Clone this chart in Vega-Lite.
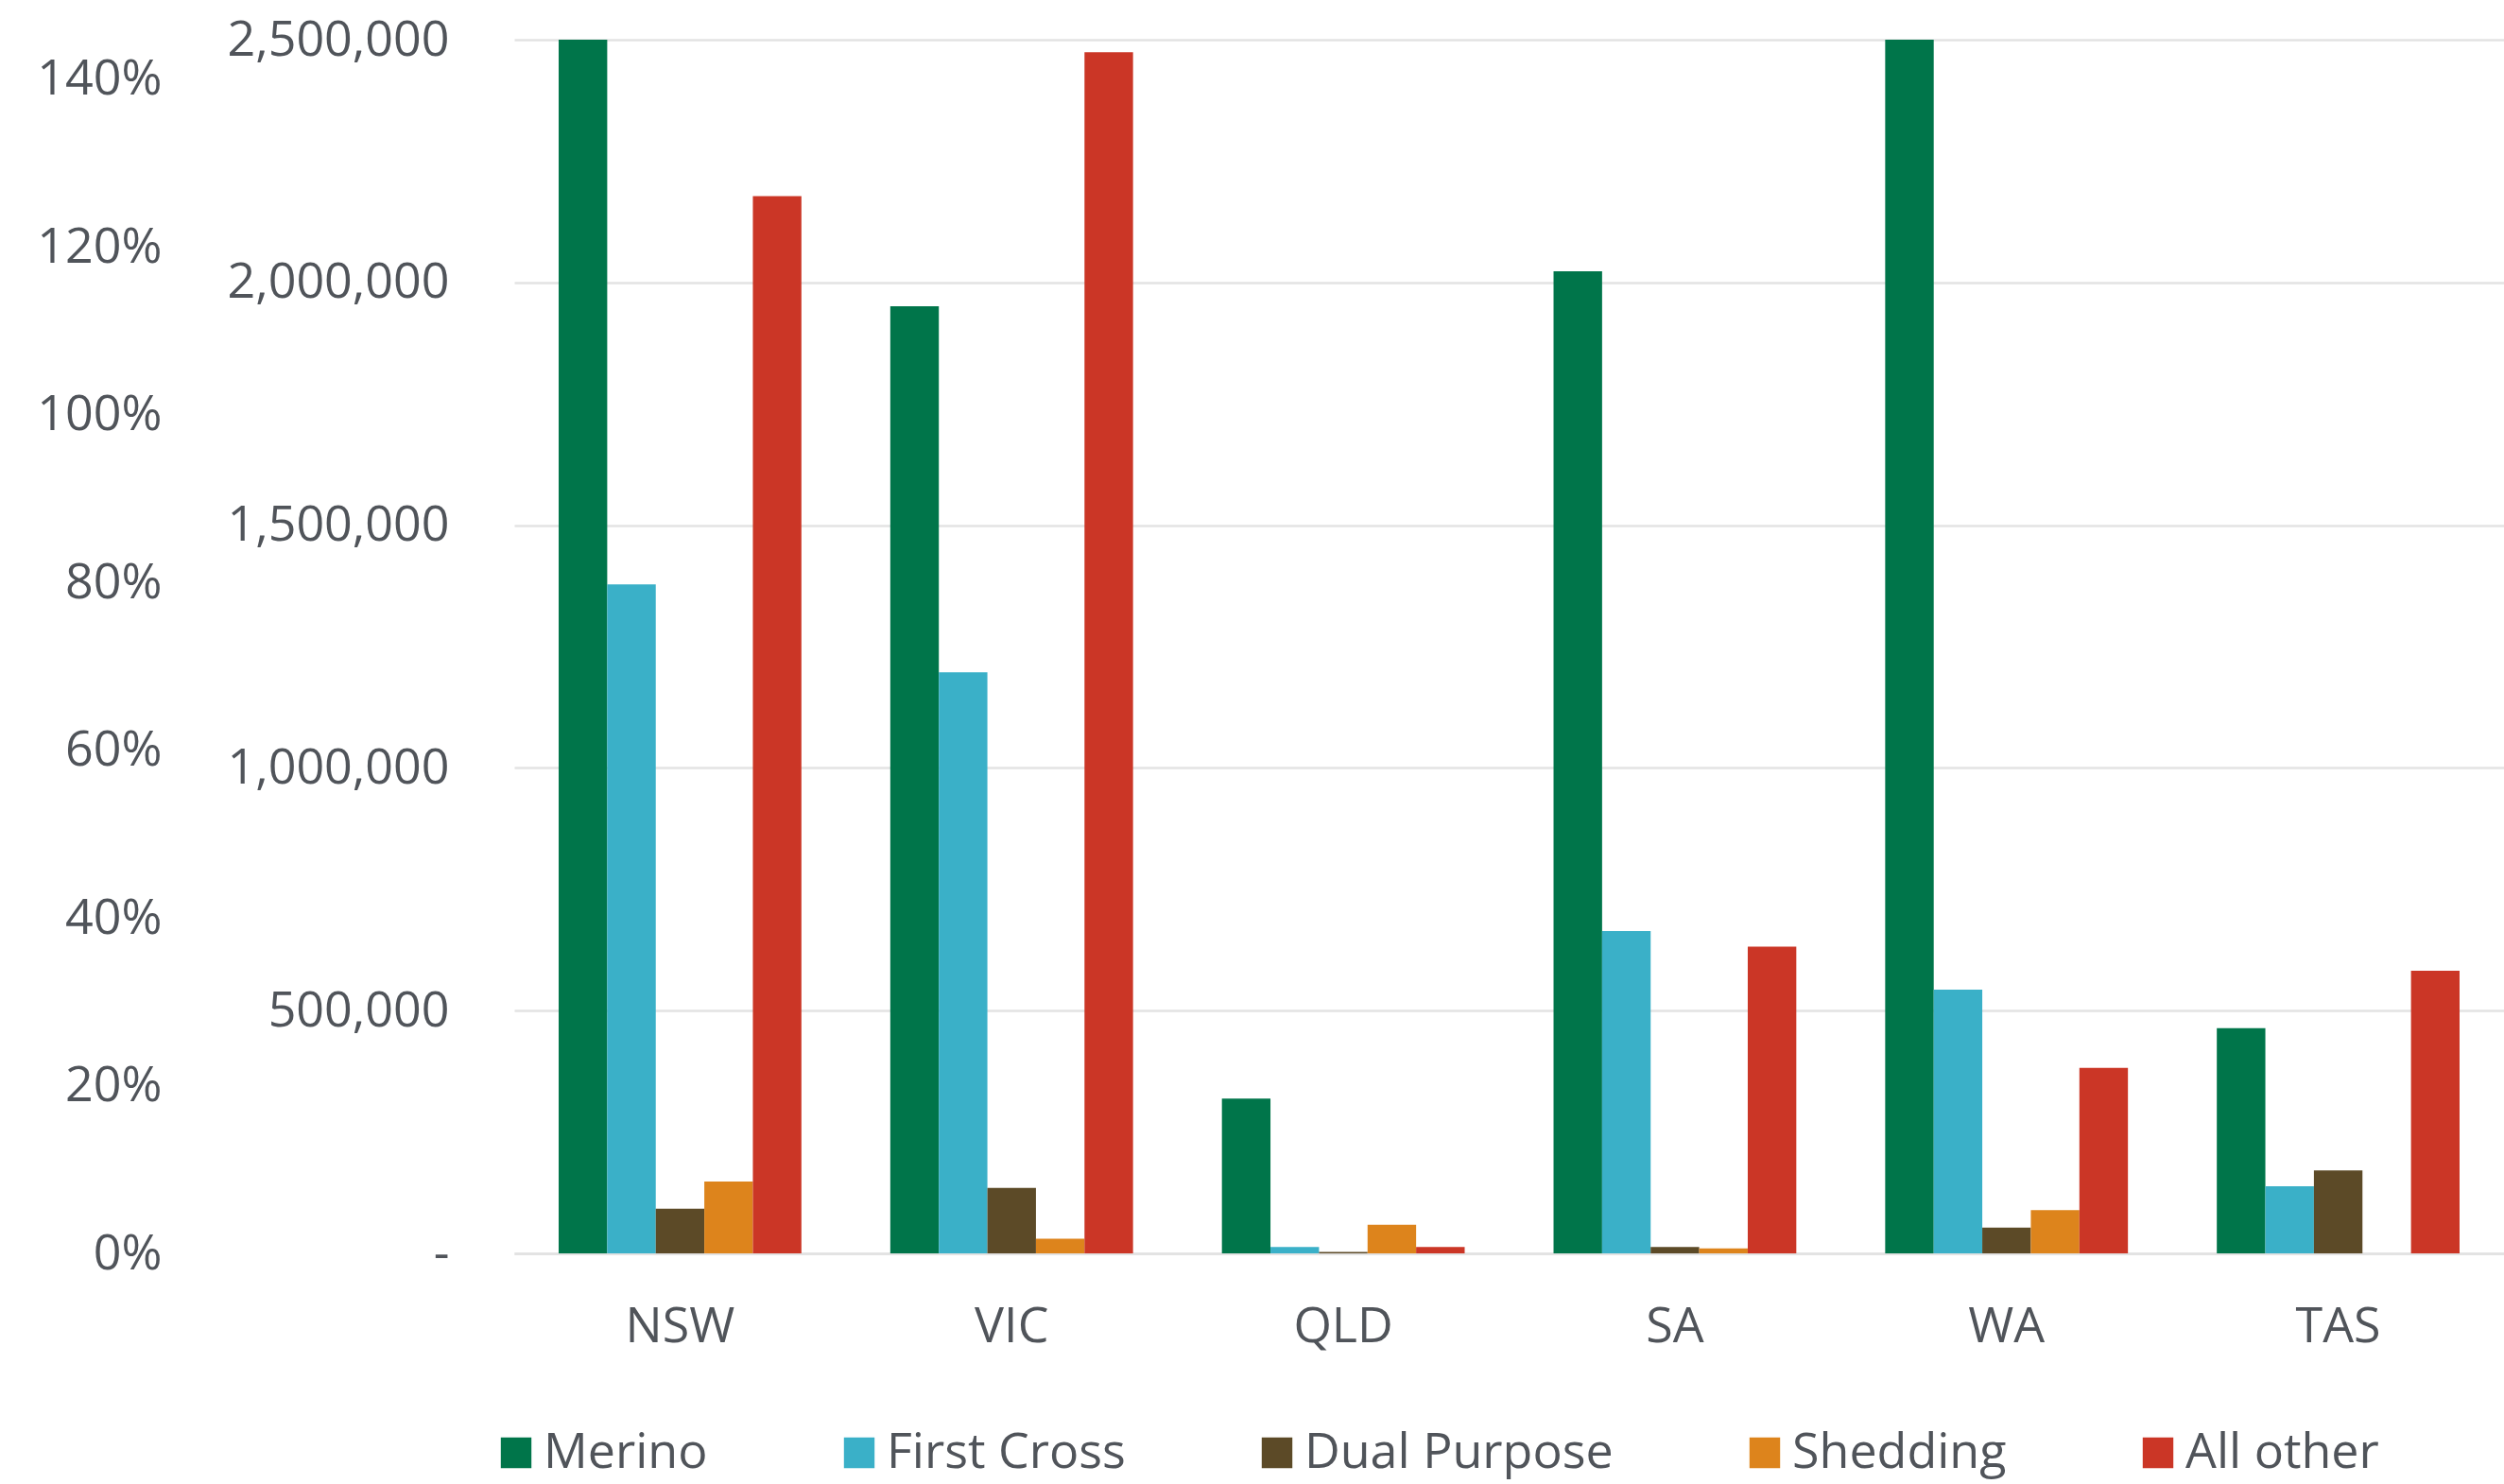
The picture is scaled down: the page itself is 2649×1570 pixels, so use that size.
{
  "$schema": "https://vega.github.io/schema/vega-lite/v6.json",
  "width": 2105,
  "height": 1284,
  "autosize": {"type": "none"},
  "padding": {"left": 544, "top": 42, "right": 0, "bottom": 244},
  "background": "white",
  "config": {
    "view": {"stroke": null},
    "font": "Open Sans",
    "axis": {
      "labelFont": "Open Sans",
      "labelFontSize": 52,
      "labelColor": "#50545A",
      "labelLimit": 500,
      "ticks": false,
      "title": null
    }
  },
  "datasets": {
    "sheep": [
      {"state": "NSW", "breed": "Merino", "count": 2800000},
      {"state": "NSW", "breed": "First Cross", "count": 1378000},
      {"state": "NSW", "breed": "Dual Purpose", "count": 92000},
      {"state": "NSW", "breed": "Shedding", "count": 148000},
      {"state": "NSW", "breed": "All other", "count": 2178000},
      {"state": "VIC", "breed": "Merino", "count": 1951000},
      {"state": "VIC", "breed": "First Cross", "count": 1197000},
      {"state": "VIC", "breed": "Dual Purpose", "count": 135000},
      {"state": "VIC", "breed": "Shedding", "count": 30000},
      {"state": "VIC", "breed": "All other", "count": 2474000},
      {"state": "QLD", "breed": "Merino", "count": 319000},
      {"state": "QLD", "breed": "First Cross", "count": 13000},
      {"state": "QLD", "breed": "Dual Purpose", "count": 3000},
      {"state": "QLD", "breed": "Shedding", "count": 59000},
      {"state": "QLD", "breed": "All other", "count": 13000},
      {"state": "SA", "breed": "Merino", "count": 2023000},
      {"state": "SA", "breed": "First Cross", "count": 664000},
      {"state": "SA", "breed": "Dual Purpose", "count": 13000},
      {"state": "SA", "breed": "Shedding", "count": 10000},
      {"state": "SA", "breed": "All other", "count": 632000},
      {"state": "WA", "breed": "Merino", "count": 2700000},
      {"state": "WA", "breed": "First Cross", "count": 543000},
      {"state": "WA", "breed": "Dual Purpose", "count": 53000},
      {"state": "WA", "breed": "Shedding", "count": 89000},
      {"state": "WA", "breed": "All other", "count": 382000},
      {"state": "TAS", "breed": "Merino", "count": 464000},
      {"state": "TAS", "breed": "First Cross", "count": 138000},
      {"state": "TAS", "breed": "Dual Purpose", "count": 171000},
      {"state": "TAS", "breed": "Shedding", "count": 0},
      {"state": "TAS", "breed": "All other", "count": 582000}
    ],
    "pctAxis": [{"pct": 0}, {"pct": 1.4}]
  },
  "layer": [
    {
      "data": {"name": "sheep"},
      "mark": {"type": "bar", "clip": true},
      "encoding": {
        "x": {
          "field": "state",
          "type": "nominal",
          "sort": ["NSW", "VIC", "QLD", "SA", "WA", "TAS"],
          "scale": {"paddingInner": 0.268, "paddingOuter": 0.134},
          "axis": {
            "labelAngle": 0,
            "labelPadding": 52,
            "domain": true,
            "domainColor": "#E3E3E3",
            "domainWidth": 3
          }
        },
        "xOffset": {
          "field": "breed",
          "type": "nominal",
          "sort": ["Merino", "First Cross", "Dual Purpose", "Shedding", "All other"],
          "scale": {"paddingInner": 0, "paddingOuter": 0}
        },
        "y": {
          "field": "count",
          "type": "quantitative",
          "scale": {"domain": [0, 2500000], "nice": false},
          "axis": {
            "orient": "left",
            "values": [0, 500000, 1000000, 1500000, 2000000, 2500000],
            "labelExpr": "datum.value == 0 ? '-\u00a0\u00a0' : format(datum.value, ',')",
            "labelPadding": 69,
            "domain": false,
            "grid": true,
            "gridColor": "#E3E3E3",
            "gridWidth": 2.5
          }
        },
        "color": {
          "field": "breed",
          "type": "nominal",
          "scale": {
            "domain": ["Merino", "First Cross", "Dual Purpose", "Shedding", "All other"],
            "range": ["#00754A", "#3AB0C8", "#5C4A27", "#DD841C", "#CB3626"]
          },
          "legend": {
            "orient": "none",
            "legendX": -24,
            "legendY": 1469,
            "direction": "horizontal",
            "columns": 5,
            "title": null,
            "symbolType": "square",
            "symbolSize": 1050,
            "symbolStrokeWidth": 0,
            "labelFont": "Open Sans",
            "labelFontSize": 52,
            "labelColor": "#50545A",
            "labelOffset": 3,
            "columnPadding": 134,
            "labelLimit": 600
          }
        }
      }
    },
    {
      "data": {"name": "pctAxis"},
      "mark": {"type": "point", "opacity": 0},
      "encoding": {
        "y": {
          "field": "pct",
          "type": "quantitative",
          "scale": {"domain": [0, 1.447], "nice": false},
          "axis": {
            "orient": "left",
            "format": ".0%",
            "values": [0, 0.2, 0.4, 0.6, 0.8, 1.0, 1.2, 1.4],
            "labelPadding": 373,
            "domain": false,
            "grid": false
          }
        }
      }
    }
  ],
  "resolve": {"scale": {"y": "independent"}, "axis": {"y": "independent"}}
}
